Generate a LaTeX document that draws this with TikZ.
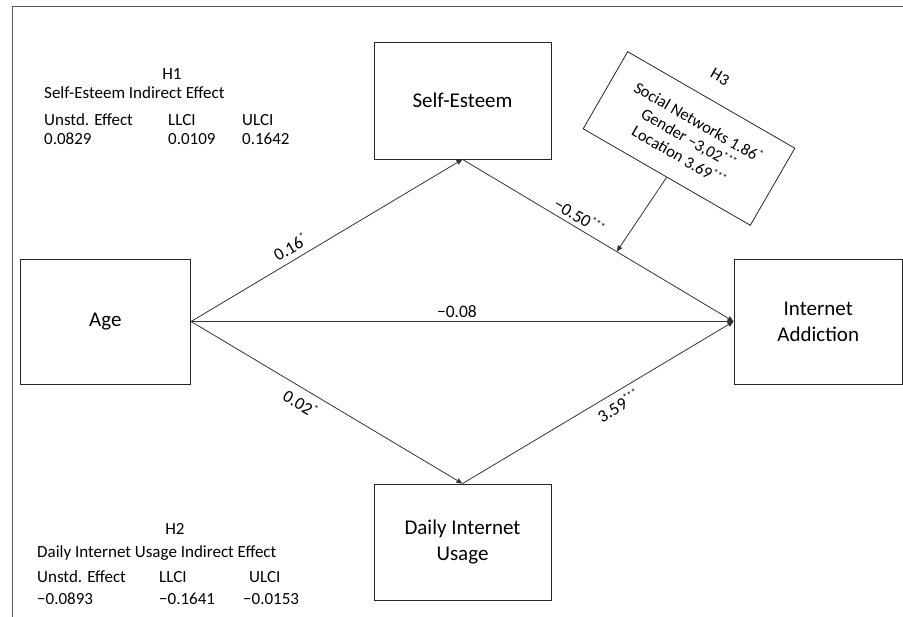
\documentclass[tikz,border=0pt]{standalone}
\usepackage{fontspec}
\setmainfont{Carlito}
\usetikzlibrary{arrows.meta}
\newcommand\sigmark[1]{\raisebox{0.75ex}{\fontsize{10}{10}\selectfont #1}}
\begin{document}
\begin{tikzpicture}[x=1pt,y=-1pt,
  box/.style={draw=black!85,line width=0.8pt,fill=white,inner sep=2pt,align=center,font=\fontsize{21}{26}\selectfont},
  arr/.style={draw=black!80,line width=0.8pt,-{Triangle[length=6pt,width=5pt]}},
  elab/.style={font=\fontsize{17.5}{20}\selectfont,inner sep=1pt},
  tab/.style={font=\fontsize{17}{20}\selectfont,anchor=base west,inner sep=0pt},
  tabh/.style={font=\fontsize{17}{20}\selectfont,anchor=base,inner sep=0pt},
  frame/.style={draw=black!65,line width=1pt}]
\useasboundingbox (0,0) rectangle (903,617);
\draw[frame] (12,617) -- (12,7) -- (903,7);

\node[box,minimum width=170.7pt,minimum height=125pt] (age) at (105.35,321.5) {Age};
\node[box,minimum width=177pt,minimum height=117pt] (se) at (462.5,100.5) {Self-Esteem};
\node[box,minimum width=177pt,minimum height=116pt] (diu) at (462.5,542) {Daily Internet\\Usage};
\node[box,minimum width=168.5pt,minimum height=125pt] (ia) at (818.25,321.5) {Internet\\Addiction};

\node[box,rotate=-30,minimum width=193pt,minimum height=89pt,
      font=\fontsize{16.5}{19.5}\selectfont] (h3) at (689,138.5)
  {Social Networks 1.86\sigmark{*}\\Gender −3,02\sigmark{***}\\Location 3.69\sigmark{***}};
\node[rotate=-30,font=\fontsize{16.5}{19}\selectfont,inner sep=0pt] (h3t) at (720,77) {H3};

\draw[arr] (age.east) -- (se.south) node[elab,pos=0.39,sloped,above=5pt] (l1) {0.16\sigmark{*}};
\draw[arr] (age.east) -- (ia.west) node[elab,pos=0.49,above=2pt] (l2) {−0.08};
\draw[arr] (age.east) -- (diu.north) node[elab,pos=0.43,sloped,below=6pt] (l3) {0.02\sigmark{*}};
\draw[arr] (se.south) -- (ia.west) node[elab,pos=0.41,sloped,above=3pt] (l4) {−0.50\sigmark{***}}
  coordinate[pos=0.569] (hit);
\draw[arr] (diu.north) -- (ia.west) node[elab,pos=0.55,sloped,below=5pt] (l5) {3.59\sigmark{***}};
\draw[arr] (h3.south) -- (hit);

% H1 table
\node[tabh] (h1) at (172,80) {H1};
\node[tab] (h1a) at (44,99) {Self-Esteem Indirect Effect};
\node[tab] (h1b) at (44,126) {Unstd. Effect};
\node[tab] (h1c) at (168,126) {LLCI};
\node[tab] (h1d) at (242,126) {ULCI};
\node[tab] (h1e) at (44,145) {0.0829};
\node[tab] (h1f) at (168,145) {0.0109};
\node[tab] (h1g) at (242,145) {0.1642};

% H2 table
\node[tabh] (h2) at (175,535) {H2};
\node[tab] (h2a) at (37,558) {Daily Internet Usage Indirect Effect};
\node[tab] (h2b) at (37,582) {Unstd. Effect};
\node[tab] (h2c) at (159,582) {LLCI};
\node[tab] (h2d) at (249,582) {ULCI};
\node[tab] (h2e) at (37,604) {−0.0893};
\node[tab] (h2f) at (159,604) {−0.1641};
\node[tab] (h2g) at (243,604) {−0.0153};
\end{tikzpicture}
\end{document}
